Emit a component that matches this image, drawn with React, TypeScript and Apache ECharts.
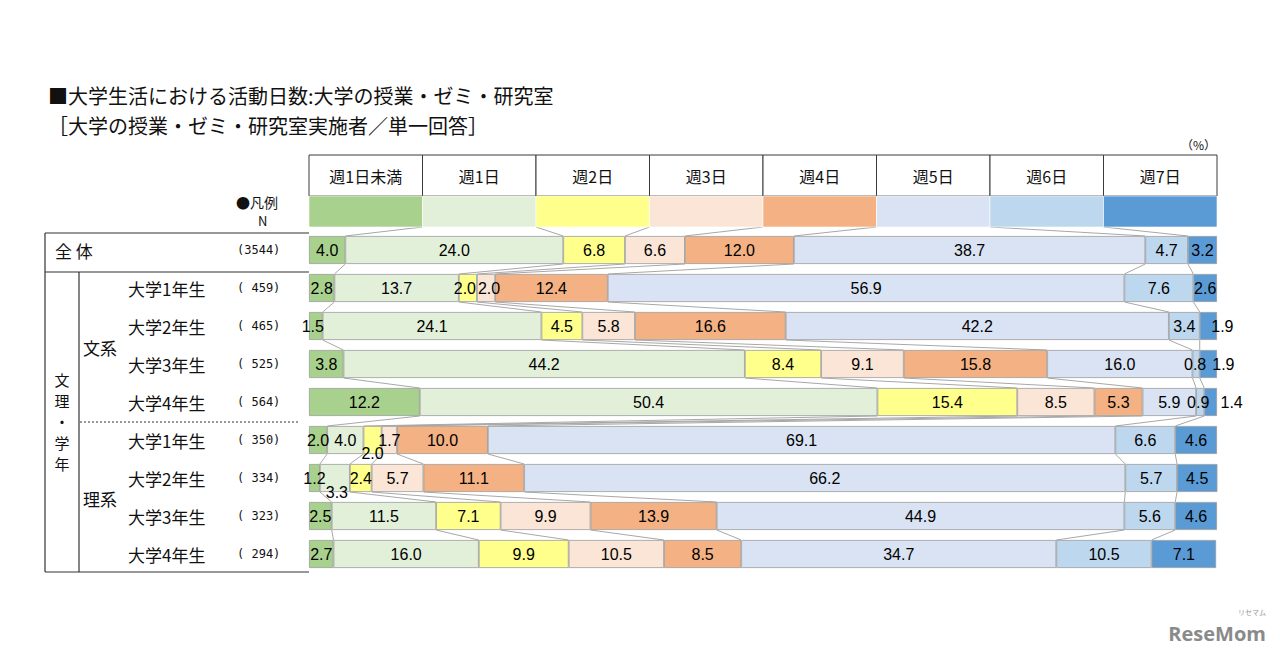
import React, { useEffect, useRef } from "react";
import * as echarts from "echarts";

// ---- data ----
const categories = ["週1日未満", "週1日", "週2日", "週3日", "週4日", "週5日", "週6日", "週7日"];
const rowKeys = ["全体", "文系1", "文系2", "文系3", "文系4", "理系1", "理系2", "理系3", "理系4"];
const rowLabels = ["大学1年生", "大学2年生", "大学3年生", "大学4年生", "大学1年生", "大学2年生", "大学3年生", "大学4年生"];
const rowN = ["(3544)", "( 459)", "( 465)", "( 525)", "( 564)", "( 350)", "( 334)", "( 323)", "( 294)"];
const groupNames = ["文系", "理系"];

const lessThan1 = [4.0, 2.8, 1.5, 3.8, 12.2, 2.0, 1.2, 2.5, 2.7];
const day1 = [24.0, 13.7, 24.1, 44.2, 50.4, 4.0, 3.3, 11.5, 16.0];
const day2 = [6.8, 2.0, 4.5, 8.4, 15.4, 2.0, 2.4, 7.1, 9.9];
const day3 = [6.6, 2.0, 5.8, 9.1, 8.5, 1.7, 5.7, 9.9, 10.5];
const day4 = [12.0, 12.4, 16.6, 15.8, 5.3, 10.0, 11.1, 13.9, 8.5];
const day5 = [38.7, 56.9, 42.2, 16.0, 5.9, 69.1, 66.2, 44.9, 34.7];
const day6 = [4.7, 7.6, 3.4, 0.8, 0.9, 6.6, 5.7, 5.6, 10.5];
const day7 = [3.2, 2.6, 1.9, 1.9, 1.4, 4.6, 4.5, 4.6, 7.1];

const seriesValues = [lessThan1, day1, day2, day3, day4, day5, day6, day7];

// ---- styles ----
const colors = ["#a9d18e", "#e2f0d9", "#ffff8c", "#fbe5d6", "#f4b183", "#dae3f3", "#bdd7ee", "#5b9bd5"];
const JP = "'Noto Sans CJK JP', sans-serif";
const NUM = "'Liberation Sans', Arial, sans-serif";
const GRID_TOP = 193;
const ROW_H = 38;
const GRID_LEFT = 309;
const GRID_WIDTH = 908;
const BAR_W = 28;

// label position tweaks keyed by "seriesIndex-rowIndex"
const labelTweaks: Record<string, any> = {
  "0-2": { offset: [-3, 0] },
  "2-1": { offset: [-3, 0] },
  "3-1": { offset: [3, 0] },
  "7-2": { offset: [14, 0] },
  "7-3": { offset: [15, 0] },
  "6-3": { offset: [-1, 0] },
  "7-4": { offset: [21, 0] },
  "6-4": { offset: [-2, 0] },
  "2-5": { offset: [0, 13] },
  "1-6": { offset: [2, 14] },
};

function cum(row: number, k: number): number {
  let s = 0;
  for (let i = 0; i < k; i++) s += seriesValues[i][row];
  return s;
}

export default function App() {
  const ref = useRef<HTMLDivElement>(null);

  useEffect(() => {
    document.body.style.margin = "0";
    const chart = echarts.init(ref.current!, null, { renderer: "svg" });

    const yCats = ["凡例", ...rowKeys];

    const barSeries = seriesValues.map((vals, si) => ({
      type: "bar",
      name: categories[si],
      stack: "total",
      barWidth: BAR_W,
      itemStyle: { color: colors[si], borderColor: "#9a9a9a", borderWidth: 0.8 },
      label: {
        show: true,
        position: "inside",
        color: "#000",
        fontSize: 16,
        fontFamily: NUM,
        formatter: (p: any) => Number(p.value).toFixed(1),
      },
      data: ["-", ...vals.map((v, ri) => {
        const t = labelTweaks[`${si}-${ri}`];
        return t ? { value: v, label: { ...t } } : v;
      })],
    }));

    const connectorSeries = {
      type: "custom",
      silent: true,
      z: 1,
      encode: { x: 0, y: 1 },
      data: rowKeys.map((_, g) => [0, g]),
      renderItem: (params: any, api: any) => {
        const g = params.dataIndex;
        const upperY = api.coord([0, g])[1] + (g === 0 ? 15 : BAR_W / 2);
        const lowerY = api.coord([0, g + 1])[1] - BAR_W / 2;
        const children: any[] = [];
        for (let k = 1; k < categories.length; k++) {
          const ux = g === 0 ? k * (100 / categories.length) : cum(g - 1, k);
          const lx = cum(g, k);
          children.push({
            type: "line",
            shape: { x1: api.coord([ux, g])[0], y1: upperY, x2: api.coord([lx, g + 1])[0], y2: lowerY },
            style: { stroke: "#a8a8a8", lineWidth: 1 },
          });
        }
        return { type: "group", children };
      },
    };

    const headerSeries = {
      type: "custom",
      silent: true,
      z: 3,
      encode: { x: 0, y: 1 },
      data: categories.map((_, k) => [k, 0]),
      renderItem: (params: any, api: any) => {
        const k = params.dataIndex;
        const w = 100 / categories.length;
        const x0 = api.coord([k * w, 0])[0];
        const x1 = api.coord([(k + 1) * w, 0])[0];
        const yc = api.coord([0, 0])[1];
        return {
          type: "group",
          children: [
            {
              type: "rect",
              shape: { x: x0, y: yc - 57, width: x1 - x0, height: 41 },
              style: { fill: "#fff", stroke: "#3a3a3a", lineWidth: 1 },
            },
            {
              type: "rect",
              shape: { x: x0, y: yc - 16, width: x1 - x0, height: 31 },
              style: { fill: colors[k], stroke: "#ffffff", lineWidth: 0.6 },
            },
            {
              type: "text",
              style: {
                text: categories[k],
                x: (x0 + x1) / 2,
                y: yc - 36,
                textAlign: "center",
                textVerticalAlign: "middle",
                align: "center",
                verticalAlign: "middle",
                fill: "#111",
                fontSize: 16,
                fontFamily: JP,
              },
            },
          ],
        };
      },
    };

    const rowY = (i: number) => GRID_TOP + ROW_H * (i + 1.5);
    const textEl = (text: string, x: number, y: number, size: number, extra: any = {}) => ({
      type: "text",
      silent: true,
      style: {
        text, x, y, fill: "#111", fontSize: size, fontFamily: JP,
        textAlign: "left", textVerticalAlign: "middle", ...extra,
      },
    });
    const lineEl = (x1: number, y1: number, x2: number, y2: number, extra: any = {}) => ({
      type: "line",
      silent: true,
      shape: { x1, y1, x2, y2 },
      style: { stroke: "#333", lineWidth: 1.2, ...extra },
    });

    const graphics: any[] = [
      textEl("■大学生活における活動日数:大学の授業・ゼミ・研究室", 48, 95, 20),
      textEl("［大学の授業・ゼミ・研究室実施者／単一回答］", 48, 125, 20),
      textEl("（%）", 1216, 144, 12, { textAlign: "right" }),
      textEl("●凡例", 236, 202, 14),
      textEl("N", 258, 220, 13),
      lineEl(45, 233, GRID_LEFT, 233),
      lineEl(45, 272, GRID_LEFT, 272),
      lineEl(45, 572, GRID_LEFT, 572),
      lineEl(45, 233, 45, 572),
      lineEl(79, 272, 79, 572),
      lineEl(80, 422, 300, 422, { lineDash: [2, 2], lineWidth: 1 }),
      textEl("全 体", 55, rowY(0), 17),
      textEl(groupNames[0], 83, 347, 17),
      textEl(groupNames[1], 83, 498, 17),
      textEl("ReseMom", 1266, 633, 20, { textAlign: "right", fill: "#8a8a8a", fontWeight: "bold", fontFamily: "'Open Sans', sans-serif" }),
      textEl("リセマム", 1266, 612, 7, { textAlign: "right", fill: "#999" }),
    ];
    ["文", "理", "・", "学", "年"].forEach((ch, i) => {
      graphics.push(textEl(ch, 62, 379 + i * 21, 15, { textAlign: "center" }));
    });
    rowN.forEach((n, i) => {
      graphics.push(textEl(n, 237, rowY(i), 12, { fontFamily: "'DejaVu Sans Mono', monospace" }));
    });
    rowLabels.forEach((l, i) => {
      graphics.push(textEl(l, 128, rowY(i + 1), 17));
    });

    chart.setOption({
      animation: false,
      backgroundColor: "#fff",
      grid: { left: GRID_LEFT, width: GRID_WIDTH, top: GRID_TOP, height: ROW_H * yCats.length },
      xAxis: { type: "value", min: 0, max: 100, show: false },
      yAxis: { type: "category", data: yCats, inverse: true, show: false },
      series: [connectorSeries, headerSeries, ...barSeries],
      graphic: graphics,
    });

    return () => chart.dispose();
  }, []);

  return <div ref={ref} style={{ width: 1280, height: 654 }} />;
}
